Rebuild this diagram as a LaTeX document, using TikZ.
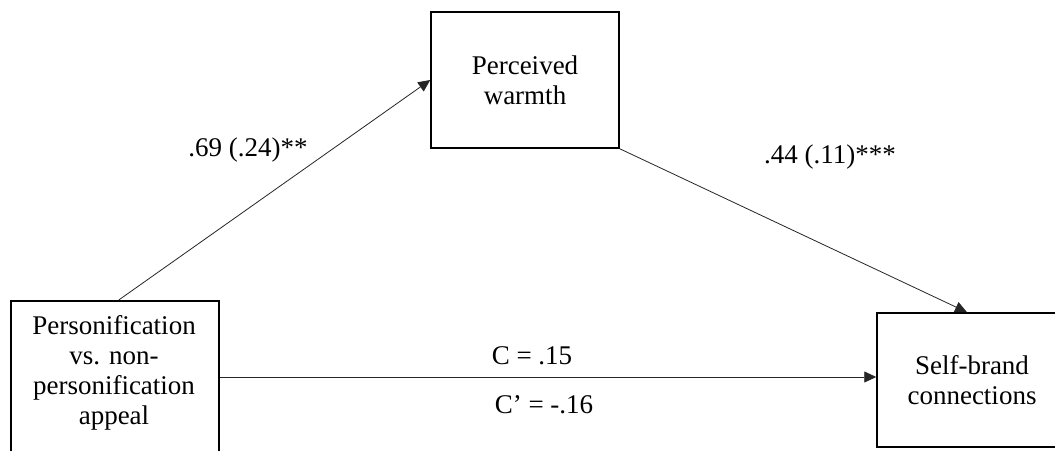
\documentclass[tikz,border=0pt]{standalone}
\usepackage{fontspec}
\setmainfont{Liberation Serif}
\usetikzlibrary{arrows.meta,calc}
\tikzset{
  boxnode/.style={draw=black, line width=1.5pt, fill=white, inner sep=0pt},
  txt/.style={align=center, font=\fontsize{27}{30}\selectfont, inner sep=0pt},
  lbl/.style={font=\fontsize{27}{30}\selectfont, inner sep=0pt},
  arr/.style={draw=black!85, line width=0.8pt, -{Triangle[length=12pt,width=11pt]}}
}
\begin{document}
\begin{tikzpicture}[x=1pt,y=-1pt]
\clip (0,0) rectangle (1055,450);
\fill[white] (0,0) rectangle (1055,450);
% boxes
\node[boxnode, anchor=north west, minimum width=208pt, minimum height=180pt] (pers) at (10,300) {};
\node[txt] (perstxt) at (114,373) {Personification\\vs. non-\\personification\\appeal};
\node[boxnode, txt, minimum width=188pt, minimum height=136pt] (warm) at (525,80) {Perceived\\warmth};
\node[boxnode, txt, minimum width=190pt, minimum height=134pt] (self) at (972,380) {Self-brand\\connections};
% connectors
\draw[arr] ([xshift=4pt]pers.north) -- (warm.west);
\draw[arr] (warm.south east) -- ([xshift=-5pt]self.north);
\draw[arr] ([yshift=-77pt]pers.north east) coordinate (h1) -- (h1 -| self.west);
% labels
\node[lbl] (a) at (248,150) {.69 (.24)**};
\node[lbl] (b) at (830,157) {.44 (.11)***};
\node[lbl] (c) at (532,356) {C = .15};
\node[lbl] (cp) at (544,405) {C’ = -.16};
\end{tikzpicture}
\end{document}
